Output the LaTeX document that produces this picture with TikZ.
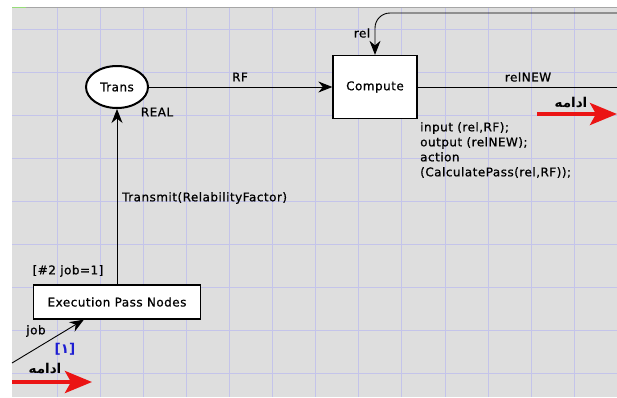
\documentclass[tikz,border=0pt]{standalone}
\usepackage{fontspec}
\setmainfont[LetterSpace=4,FakeBold=0.8]{DejaVu Sans}
\newfontfamily\arabicfont[Script=Arabic]{DejaVu Sans}
\TeXXeTstate=1
\usetikzlibrary{arrows.meta,shapes.geometric}
\definecolor{bggray}{RGB}{222,222,222}
\definecolor{gridc}{RGB}{196,196,234}
\definecolor{numblue}{RGB}{30,30,210}
\definecolor{redarrow}{RGB}{235,20,20}
\definecolor{topgreen}{RGB}{150,220,120}
\begin{document}
\begin{tikzpicture}[x=1pt,y=-1pt,
  lbl/.style={font=\fontsize{12}{14}\selectfont, inner sep=0pt},
  conn/.style={draw=black, line width=0.9pt, -{Stealth[length=14pt,width=11pt,inset=4.5pt]}},
  plainline/.style={draw=black, line width=0.9pt},
  placebox/.style={rectangle, draw, line width=1.3pt, fill=white, font=\fontsize{12}{14}\selectfont, inner sep=0pt},
  placeell/.style={ellipse, draw, line width=2pt, fill=white, minimum width=62pt, minimum height=42pt, inner sep=0pt, font=\fontsize{12}{14}\selectfont},
  redarr/.style={draw=redarrow, line width=4pt, -{Stealth[length=27pt,width=22pt,inset=6pt]}},
  fa/.style={font=\arabicfont\bfseries\fontsize{13.5}{15}\selectfont, inner sep=0pt},
]
\useasboundingbox (0,0) rectangle (617,397);
\fill[white] (0,0) rectangle (617,397);
\fill[bggray] (12,7) rectangle (617,397);
\foreach \i in {0,...,13} \draw[gridc, line width=0.8pt] ({57+43.1*\i},7) -- ({57+43.1*\i},397);
\foreach \i in {0,...,8} \draw[gridc, line width=0.8pt] (12,{29+43.1*\i}) -- (617,{29+43.1*\i});
\draw[gray!70, line width=0.8pt] (12,7) -- (617,7);
\draw[topgreen, line width=1.5pt] (12,7.5) -- (26,7.5);

% places and transitions
\node[placeell] (trans) at (117,87) {Trans};
\node[placebox, minimum width=84pt, minimum height=63pt] (compute) at (375,87) {Compute};
\node[placebox, minimum width=167pt, minimum height=34pt] (exec) at (117,302) {Execution Pass Nodes};

% free ends
\coordinate (relstart) at (617,13);
\coordinate (relend) at (617,87);
\coordinate (jobstart) at (12,363);
\path (exec.south west) ++(51,0) coordinate (jobtip);
\coordinate (r1s) at (537,114);
\coordinate (r1e) at (617,114);
\coordinate (r2s) at (12,382);
\coordinate (r2e) at (92,382);

% connectors
\draw[conn] (trans.east) -- (compute.west);
\draw[conn] (exec.north) -- (trans.south);
\draw[conn, rounded corners=15pt] (relstart) -| (compute.north);
\draw[plainline] (compute.east) -- (relend);
\draw[conn] (jobstart) -- (jobtip);
\draw[redarr] (r1s) -- (r1e);
\draw[redarr] (r2s) -- (r2e);

% labels
\node[lbl] (rflbl) at (240,77) {RF};
\node[lbl] (reallbl) at (157,112) {REAL};
\node[lbl] (relnewlbl) at (528,77) {relNEW};
\node[lbl] (rellbl) at (362,33) {rel};
\node[lbl, anchor=west] (translbl) at (122,198) {Transmit(RelabilityFactor)};
\node[lbl] (guardlbl) at (68,271) {[\#2 job=1]};
\node[lbl] (joblbl) at (36,331) {job};
\node[lbl, text=numblue, font=\fontsize{13.5}{15}\selectfont] (onelbl) at (65,349) {\arabicfont\bfseries [١]};
\node[fa] (fa1) at (571,103) {\beginR ادامه\endR};
\node[fa] (fa2) at (45,369) {\beginR ادامه\endR};
\node[lbl, anchor=north west, align=left, font=\fontsize{12}{15}\selectfont] (code) at (420,122)
  {input (rel,RF);\\output (relNEW);\\action\\(CalculatePass(rel,RF));};
\end{tikzpicture}
\end{document}
